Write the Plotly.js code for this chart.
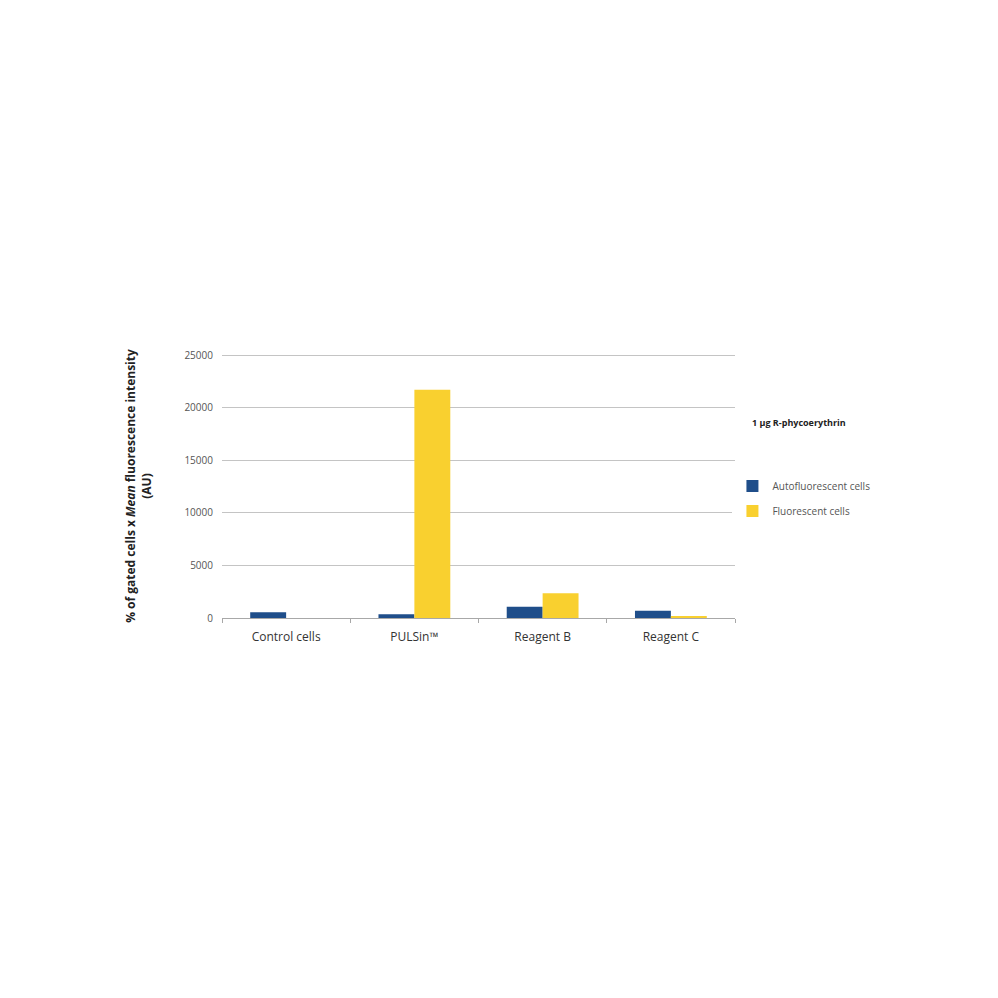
<!DOCTYPE html>
<html>
<head>
<meta charset="utf-8">
<script src="https://cdn.plot.ly/plotly-3.0.1.min.js"></script>
<style>
  html, body { margin: 0; padding: 0; background: #fff; }
  #chart { width: 998px; height: 998px; }
</style>
</head>
<body>
<div id="chart"></div>
<script>
    // ── Data ──
    const categories = ['Control cells', 'PULSin™', 'Reagent B', 'Reagent C'];
    const autoCells  = [550, 350, 1070, 700];
    const fluoCells  = [0, 21700, 2350, 200];
    const yTicks     = [0, 5000, 10000, 15000, 20000, 25000];

    const font = 'Open Sans, Liberation Sans, sans-serif';

    Plotly.newPlot('chart', [
        {
            x: categories, y: autoCells,
            name: 'Autofluorescent cells',
            type: 'bar', legendgroup: 'a',
            marker: { color: '#1f4e8a' }
        },
        {
            x: categories, y: fluoCells,
            name: 'Fluorescent cells',
            type: 'bar', legendgroup: 'b',
            marker: { color: '#f9d02f' }
        }
    ], {
        width: 998, height: 998,
        margin: { t: 354, r: 263, b: 380, l: 222 },
        barmode: 'group',
        bargap: 0.44, bargroupgap: 0,
        showlegend: true,
        legend: {
            x: 0.995, xanchor: 'left', y: 0.555, yanchor: 'top',
            traceorder: 'grouped', tracegroupgap: 6,
            font: { family: font, size: 10, color: '#555' },
            itemwidth: 30
        },
        xaxis: {
            showline: true, linecolor: '#a8a8a8', linewidth: 1,
            ticks: 'outside', tickson: 'boundaries', ticklen: 4, tickcolor: '#a8a8a8',
            ticklabelstandoff: 8,
            tickfont: { family: font, size: 12, color: '#333' },
            showgrid: false, fixedrange: true
        },
        yaxis: {
            range: [0, 25100], tickvals: yTicks, ticktext: yTicks.map(String),
            showgrid: true, gridcolor: '#c4c4c4', zeroline: false,
            ticks: '', ticklabelstandoff: 8,
            tickfont: { family: font, size: 10, color: '#555' },
            title: {
                text: '<b>% of gated cells x <i>Mean</i> fluorescence intensity<br>(AU)</b>',
                font: { family: font, size: 12, color: '#222' },
                standoff: 30
            },
            automargin: false
        },
        annotations: [{
            xref: 'paper', yref: 'paper', x: 1.03, y: 0.74,
            xanchor: 'left', yanchor: 'middle', showarrow: false,
            text: '<b>1 µg R-phycoerythrin</b>',
            font: { family: font, size: 9, color: '#222' }
        }],
        paper_bgcolor: '#fff',
        plot_bgcolor: '#fff',
        font: { family: font }
    }, { displayModeBar: false });
</script>
</body>
</html>
